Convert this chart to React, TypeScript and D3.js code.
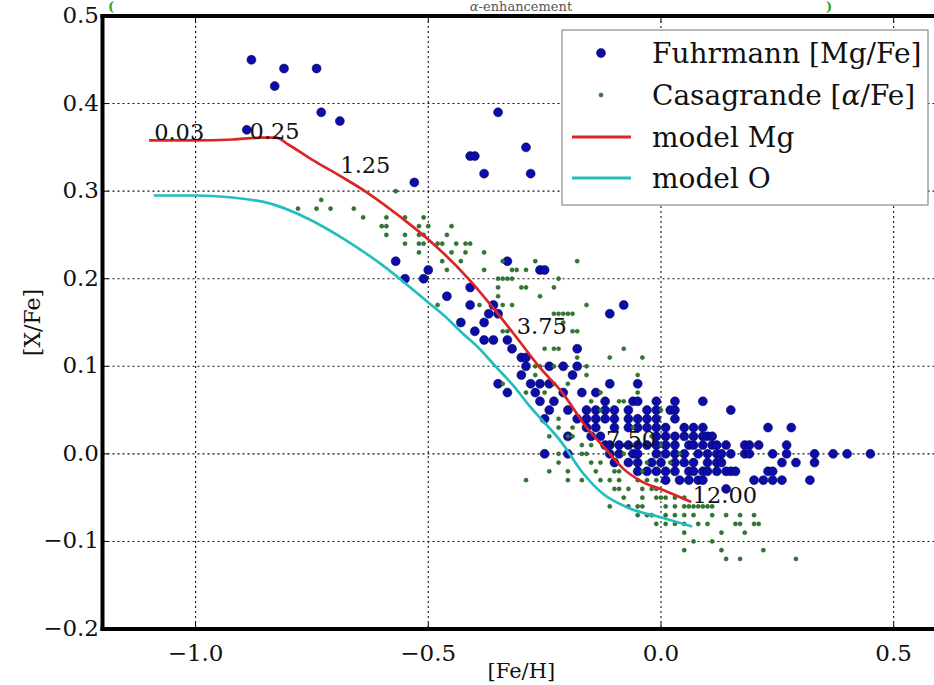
import React, { useEffect } from "react";
import * as d3 from "d3";

// ---------- DATA ----------
const xTicks = [-1.0, -0.5, 0.0, 0.5];
const yTicks = [-0.2, -0.1, 0.0, 0.1, 0.2, 0.3, 0.4, 0.5];

const fuhrmann: [number, number][] = [
  [-0.88, 0.45], [-0.81, 0.44], [-0.74, 0.44], [-0.83, 0.42], [-0.73, 0.39], [-0.69, 0.38], [-0.89, 0.37],
  [-0.53, 0.31], [-0.35, 0.39], [-0.41, 0.34], [-0.40, 0.34], [-0.29, 0.35], [-0.38, 0.32], [-0.28, 0.32],
  [-0.57, 0.22], [-0.33, 0.22], [-0.50, 0.21], [-0.55, 0.20], [-0.51, 0.20], [-0.26, 0.21], [-0.25, 0.21],
  [-0.46, 0.18], [-0.41, 0.19], [-0.41, 0.17], [-0.36, 0.17], [-0.37, 0.16], [-0.35, 0.16], [-0.43, 0.15],
  [-0.38, 0.15], [-0.40, 0.14], [-0.38, 0.13], [-0.36, 0.13], [-0.33, 0.13], [-0.32, 0.12], [-0.30, 0.11],
  [-0.29, 0.11], [-0.29, 0.10], [-0.24, 0.10], [-0.21, 0.10], [-0.18, 0.12], [-0.18, 0.10], [-0.11, 0.16],
  [-0.08, 0.17],
  [-0.30, 0.09], [-0.19, 0.09],
  [-0.35, 0.08], [-0.28, 0.08], [-0.26, 0.08], [-0.24, 0.08], [-0.11, 0.08], [-0.05, 0.08],
  [-0.33, 0.07], [-0.27, 0.07], [-0.21, 0.07], [-0.17, 0.07], [-0.14, 0.07],
  [-0.26, 0.06], [-0.23, 0.06], [-0.12, 0.06], [-0.06, 0.06], [-0.05, 0.06], [-0.01, 0.06], [0.03, 0.06], [0.09, 0.06],
  [-0.24, 0.05], [-0.20, 0.05], [-0.16, 0.05], [-0.14, 0.05], [-0.12, 0.05], [-0.10, 0.05], [-0.07, 0.05],
  [-0.03, 0.05], [-0.01, 0.05], [0.02, 0.05], [0.03, 0.05], [0.15, 0.05],
  [-0.25, 0.04], [-0.18, 0.04], [-0.16, 0.04], [-0.14, 0.04], [-0.12, 0.04], [-0.10, 0.04], [-0.07, 0.04],
  [-0.05, 0.04], [-0.03, 0.04], [-0.01, 0.04], [0.03, 0.04],
  [-0.16, 0.03], [-0.14, 0.03], [-0.10, 0.03], [-0.07, 0.03], [-0.05, 0.03], [-0.03, 0.03], [-0.01, 0.03],
  [0.01, 0.03], [0.05, 0.03], [0.07, 0.03], [0.09, 0.03], [0.23, 0.03], [0.28, 0.03],
  [-0.20, 0.02], [-0.15, 0.02], [-0.13, 0.02], [-0.01, 0.02], [0.01, 0.02], [0.03, 0.02], [0.05, 0.02],
  [0.07, 0.02], [0.09, 0.02], [0.10, 0.02], [0.11, 0.02],
  [-0.12, 0.01], [-0.11, 0.01], [-0.09, 0.01], [-0.07, 0.01], [-0.05, 0.01], [-0.03, 0.01], [-0.01, 0.01],
  [0.01, 0.01], [0.03, 0.01], [0.06, 0.01], [0.07, 0.01], [0.09, 0.01], [0.11, 0.01], [0.12, 0.01],
  [0.14, 0.01], [0.18, 0.01], [0.19, 0.01], [0.21, 0.01], [0.27, 0.01],
  [-0.25, 0.0], [-0.20, 0.0], [-0.11, 0.0], [-0.09, 0.0], [-0.06, 0.0], [-0.05, 0.0], [-0.01, 0.0], [0.01, 0.0],
  [0.03, 0.0], [0.05, 0.0], [0.08, 0.0], [0.10, 0.0], [0.12, 0.0], [0.13, 0.0], [0.15, 0.0], [0.18, 0.0],
  [0.19, 0.0], [0.24, 0.0], [0.27, 0.0], [0.33, 0.0], [0.37, 0.0], [0.40, 0.0], [0.45, 0.0],
  [-0.10, -0.01], [-0.07, -0.01], [-0.05, -0.01], [-0.02, -0.01], [0.0, -0.01], [0.03, -0.01], [0.05, -0.01],
  [0.07, -0.01], [0.10, -0.01], [0.12, -0.01], [0.13, -0.01], [0.26, -0.01], [0.29, -0.01], [0.33, -0.01],
  [-0.05, -0.02], [-0.03, -0.02], [-0.01, -0.02], [0.01, -0.02], [0.03, -0.02], [0.06, -0.02], [0.07, -0.02],
  [0.09, -0.02], [0.10, -0.02], [0.12, -0.02], [0.14, -0.02], [0.15, -0.02], [0.16, -0.02], [0.23, -0.02], [0.24, -0.02],
  [0.01, -0.03], [0.04, -0.03], [0.06, -0.03], [0.08, -0.03], [0.09, -0.03], [0.20, -0.03], [0.22, -0.03],
  [0.24, -0.03], [0.26, -0.03], [0.32, -0.03],
  [0.14, -0.04],
];

const casagrande: [number, number][] = [
  [-0.57, 0.30], [-0.78, 0.28], [-0.74, 0.28], [-0.71, 0.28], [-0.73, 0.29], [-0.66, 0.28], [-0.64, 0.27],
  [-0.59, 0.27], [-0.55, 0.27], [-0.51, 0.27],
  [-0.60, 0.26], [-0.59, 0.26], [-0.52, 0.26], [-0.50, 0.26], [-0.45, 0.26],
  [-0.59, 0.25], [-0.55, 0.25], [-0.52, 0.25], [-0.51, 0.25], [-0.46, 0.25],
  [-0.55, 0.24], [-0.52, 0.24], [-0.51, 0.24], [-0.48, 0.24], [-0.47, 0.24], [-0.44, 0.24], [-0.42, 0.24], [-0.41, 0.24],
  [-0.52, 0.23], [-0.45, 0.23], [-0.42, 0.23], [-0.38, 0.23],
  [-0.47, 0.22], [-0.43, 0.22], [-0.34, 0.22], [-0.27, 0.22], [-0.18, 0.22],
  [-0.46, 0.21], [-0.38, 0.21], [-0.32, 0.21], [-0.31, 0.21], [-0.29, 0.21],
  [-0.35, 0.20], [-0.34, 0.20], [-0.33, 0.20], [-0.32, 0.20], [-0.22, 0.20],
  [-0.35, 0.19], [-0.30, 0.19], [-0.29, 0.19], [-0.23, 0.19],
  [-0.35, 0.18], [-0.26, 0.18],
  [-0.48, 0.17], [-0.39, 0.17], [-0.34, 0.17], [-0.32, 0.17], [-0.16, 0.17],
  [-0.23, 0.16], [-0.22, 0.16], [-0.21, 0.16], [-0.19, 0.16], [-0.20, 0.16],
  [-0.21, 0.15],
  [-0.34, 0.14], [-0.33, 0.14], [-0.18, 0.14], [-0.19, 0.14],
  [-0.25, 0.12], [-0.23, 0.12], [-0.22, 0.12], [-0.08, 0.12],
  [-0.18, 0.11], [-0.11, 0.11], [-0.04, 0.11],
  [-0.27, 0.10], [-0.26, 0.10], [-0.23, 0.10], [-0.16, 0.10],
  [-0.27, 0.09], [-0.16, 0.09], [-0.05, 0.09],
  [-0.34, 0.08], [-0.23, 0.08], [-0.20, 0.08],
  [-0.29, 0.07], [-0.25, 0.07], [-0.13, 0.07], [-0.05, 0.07],
  [-0.09, 0.06], [-0.08, 0.06], [-0.15, 0.06],
  [-0.13, 0.05], [0.0, 0.05],
  [-0.22, 0.04], [-0.06, 0.03], [-0.19, 0.03], [-0.22, 0.03],
  [-0.19, 0.02], [-0.24, 0.02], [-0.20, 0.02], [-0.02, 0.02],
  [-0.17, 0.01], [-0.15, 0.01], [0.0, 0.01],
  [-0.22, 0.0], [-0.17, 0.0], [-0.16, 0.0], [-0.08, 0.0], [0.04, 0.0],
  [-0.22, -0.01], [-0.15, -0.01], [-0.13, -0.01], [-0.03, -0.01], [0.02, -0.01],
  [-0.24, -0.02], [-0.20, -0.02], [-0.14, -0.02], [-0.10, -0.02], [-0.09, -0.02], [-0.04, -0.02],
  [-0.29, -0.03], [-0.20, -0.03], [-0.17, -0.03], [-0.13, -0.03], [-0.11, -0.03], [-0.09, -0.03],
  [-0.05, -0.03], [-0.03, -0.03], [-0.01, -0.03],
  [-0.10, -0.04], [-0.09, -0.04], [-0.07, -0.04], [-0.04, -0.04], [-0.02, -0.04], [-0.01, -0.04],
  [-0.08, -0.05], [-0.04, -0.05], [-0.01, -0.05], [0.0, -0.05], [0.01, -0.05], [0.03, -0.05], [0.05, -0.05],
  [-0.11, -0.06], [-0.07, -0.06], [-0.05, -0.06], [-0.04, -0.06], [0.01, -0.06], [0.03, -0.06], [0.05, -0.06],
  [0.06, -0.06], [0.07, -0.06], [0.08, -0.06], [0.09, -0.06], [0.10, -0.06], [0.11, -0.06],
  [-0.05, -0.07], [-0.03, -0.07], [-0.02, -0.07], [0.01, -0.07], [0.03, -0.07], [0.05, -0.07], [0.07, -0.07],
  [0.11, -0.07], [0.14, -0.07], [0.17, -0.07], [0.20, -0.07],
  [-0.01, -0.08], [0.01, -0.08], [0.03, -0.08], [0.05, -0.08], [0.08, -0.08], [0.10, -0.08], [0.16, -0.08],
  [0.17, -0.08], [0.20, -0.08], [0.21, -0.08],
  [0.05, -0.09], [0.13, -0.09], [0.18, -0.09],
  [0.07, -0.10], [0.11, -0.10],
  [0.05, -0.11], [0.13, -0.11], [0.22, -0.11],
  [0.14, -0.12], [0.17, -0.12], [0.29, -0.12],
];

const modelMg: [number, number][] = [
  [-1.10, 0.358], [-1.0, 0.358], [-0.92, 0.359], [-0.86, 0.361], [-0.827, 0.361], [-0.80, 0.353],
  [-0.75, 0.336], [-0.685, 0.316], [-0.633, 0.299], [-0.556, 0.269], [-0.498, 0.244], [-0.412, 0.199],
  [-0.352, 0.161], [-0.309, 0.132], [-0.261, 0.099], [-0.212, 0.07], [-0.161, 0.031], [-0.118, 0.005],
  [-0.083, -0.016], [-0.04, -0.032], [0.003, -0.041], [0.065, -0.055],
];

const modelO: [number, number][] = [
  [-1.09, 0.295], [-1.0, 0.295], [-0.927, 0.293], [-0.841, 0.286], [-0.756, 0.268], [-0.68, 0.245],
  [-0.605, 0.218], [-0.534, 0.188], [-0.498, 0.172], [-0.462, 0.156], [-0.427, 0.138], [-0.39, 0.12],
  [-0.354, 0.099], [-0.319, 0.079], [-0.283, 0.055], [-0.212, 0.012], [-0.169, -0.021], [-0.126, -0.045],
  [-0.068, -0.062], [0.003, -0.073], [0.067, -0.083],
];

const ageLabels = ["0.03", "0.25", "1.25", "3.75", "7.50", "12.00"];
const ageLabelPos: [number, number][] = [
  [-1.089, 0.358], [-0.884, 0.36], [-0.689, 0.321], [-0.31, 0.137], [-0.118, 0.008], [0.068, -0.056],
];

const legendLabels = ["Fuhrmann [Mg/Fe]", "Casagrande [", "model Mg", "model O"];

// ---------- CHART ----------
const W = 934;
const H = 685;
const FONT = "'DejaVu Serif', serif";

export default function App() {
  useEffect(() => {
    document.body.style.margin = "0";
  }, []);

  const x = d3.scaleLinear().domain([-1.2, 0.6]).range([102.5, 940.2]);
  const y = d3.scaleLinear().domain([-0.2, 0.5]).range([629, 16]);

  const line = d3
    .line<[number, number]>()
    .x((d) => x(d[0]))
    .y((d) => y(d[1]))
    .curve(d3.curveMonotoneX);

  const fmt = (v: number) => (v < 0 ? "\u2212" : "") + Math.abs(v).toFixed(1);

  const blue = "#0c0ca8";
  const green = "#2e7a2e";
  const red = "#dd2424";
  const cyan = "#25bdbd";

  const [x0, x1] = x.range();
  const [yb, yt] = y.range();

  return (
    <svg
      width={W}
      height={H}
      style={{ position: "absolute", left: 0, top: 0, display: "block", background: "#fff" }}
      fontFamily={FONT}
    >
      <rect x={0} y={0} width={W} height={H} fill="#fff" />
      {/* title remnants at the top edge */}
      <text x={108} y={11} fontSize={13} fill="#2aa52a" fontWeight="bold">(</text>
      <text x={826} y={11} fontSize={13} fill="#2aa52a" fontWeight="bold">)</text>
      <text x={521} y={11} fontSize={13} textAnchor="middle" fill="#555">
        <tspan fontStyle="italic">α</tspan>-enhancement
      </text>

      {/* grid */}
      <g stroke="#111" strokeWidth={1.1} strokeDasharray="2,3">
        {xTicks.map((t) => (
          <line key={"gx" + t} x1={x(t)} x2={x(t)} y1={yt} y2={yb} />
        ))}
        {yTicks
          .filter((t) => t > -0.2 && t < 0.5)
          .map((t) => (
            <line key={"gy" + t} x1={x0} x2={x1} y1={y(t)} y2={y(t)} />
          ))}
      </g>

      {/* scatter */}
      <g>
        {fuhrmann.map((d, i) => (
          <circle key={"f" + i} cx={x(d[0])} cy={y(d[1])} r={4.5} fill={blue} stroke="#000050" strokeWidth={0.5} />
        ))}
      </g>
      <g>
        {casagrande.map((d, i) => (
          <circle key={"c" + i} cx={x(d[0])} cy={y(d[1])} r={2.1} fill={green} stroke="#1d4d1d" strokeWidth={0.4} />
        ))}
      </g>

      {/* models */}
      <path d={line(modelMg) || ""} fill="none" stroke={red} strokeWidth={2.7} />
      <path d={line(modelO) || ""} fill="none" stroke={cyan} strokeWidth={2.7} />

      {/* age labels */}
      <g fontSize={22.5} fill="#111">
        {ageLabels.map((s, i) => (
          <text key={"a" + i} x={x(ageLabelPos[i][0])} y={y(ageLabelPos[i][1])}>
            {s}
          </text>
        ))}
      </g>

      {/* spines */}
      <g stroke="#000" strokeWidth={4} fill="none">
        <line x1={x0} x2={x0} y1={yt - 2} y2={yb + 2} />
        <line x1={x0 - 2} x2={x1} y1={yb} y2={yb} />
        <line x1={x0 - 2} x2={x1} y1={yt} y2={yt} />
        <line x1={x1} x2={x1} y1={yt} y2={yb} />
      </g>

      {/* ticks */}
      <g stroke="#000" strokeWidth={1}>
        {xTicks.map((t) => (
          <g key={"tx" + t}>
            <line x1={x(t)} x2={x(t)} y1={yb} y2={yb - 6} />
            <line x1={x(t)} x2={x(t)} y1={yt} y2={yt + 6} />
          </g>
        ))}
        {yTicks.map((t) => (
          <line key={"ty" + t} x1={x0} x2={x0 + 6} y1={y(t)} y2={y(t)} />
        ))}
      </g>

      {/* tick labels */}
      <g fontSize={23} fill="#111">
        {xTicks.map((t) => (
          <text key={"lx" + t} x={x(t)} y={661} textAnchor="middle">
            {fmt(t)}
          </text>
        ))}
        {yTicks.map((t) => (
          <text key={"ly" + t} x={99} y={y(t) + 7} textAnchor="end">
            {fmt(t)}
          </text>
        ))}
      </g>

      {/* axis labels */}
      <text x={(x0 + x1) / 2} y={678} textAnchor="middle" fontSize={21} fill="#111">
        [Fe/H]
      </text>
      <text transform={`translate(40, ${(yt + yb) / 2}) rotate(-90)`} textAnchor="middle" fontSize={22} fill="#111">
        [X/Fe]
      </text>

      {/* legend */}
      <g>
        <rect x={562} y={30} width={366} height={175} fill="#fff" stroke="#8a8a8a" strokeWidth={1.2} />
        <circle cx={601} cy={53} r={4.5} fill={blue} stroke="#000050" strokeWidth={0.5} />
        <circle cx={601} cy={95} r={2.1} fill={green} stroke="#1d4d1d" strokeWidth={0.4} />
        <line x1={572} x2={631} y1={137} y2={137} stroke={red} strokeWidth={3} />
        <line x1={572} x2={631} y1={178} y2={178} stroke={cyan} strokeWidth={3} />
        <g fontSize={28} fill="#111">
          <text x={652} y={63}>{legendLabels[0]}</text>
          <text x={652} y={105}>
            {legendLabels[1]}
            <tspan fontStyle="italic">α</tspan>/Fe]
          </text>
          <text x={652} y={147}>{legendLabels[2]}</text>
          <text x={652} y={188}>{legendLabels[3]}</text>
        </g>
      </g>
    </svg>
  );
}
